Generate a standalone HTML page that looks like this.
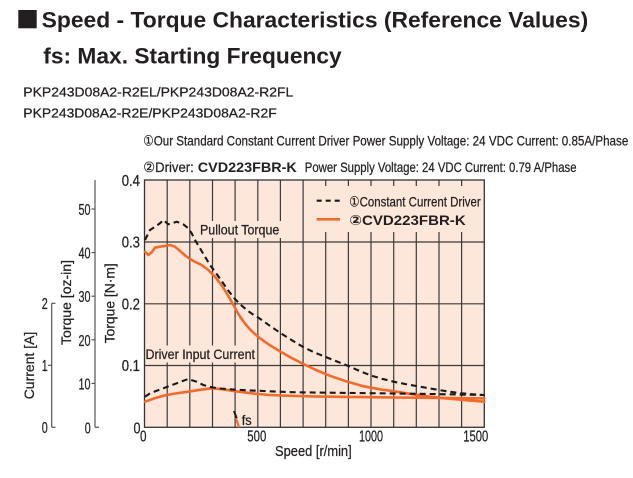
<!DOCTYPE html>
<html>
<head>
<meta charset="utf-8">
<style>
  html, body { margin:0; padding:0; background:#ffffff; }
  body { width:633px; height:478px; overflow:hidden; }
  svg { display:block; }
  text { font-family:"Liberation Sans", "DejaVu Sans", "Noto Sans CJK JP", sans-serif; fill:#231f20; }
  .b { font-weight:bold; }
  .t { stroke:#231f20; stroke-width:0.25; }
</style>
</head>
<body>
<svg width="633" height="478" viewBox="0 0 633 478" xmlns="http://www.w3.org/2000/svg">
  <rect x="0" y="0" width="633" height="478" fill="#ffffff"/>

  <!-- Titles -->
  <rect x="18.3" y="10" width="18.4" height="18.3" fill="#231f20"/>
  <text class="b" x="41.7" y="27.5" font-size="22" textLength="546.5" lengthAdjust="spacingAndGlyphs">Speed - Torque Characteristics (Reference Values)</text>
  <text class="b" x="43.3" y="63.3" font-size="22" textLength="298.4" lengthAdjust="spacingAndGlyphs">fs: Max. Starting Frequency</text>

  <text class="t" x="23.3" y="96.7" font-size="13" textLength="270" lengthAdjust="spacingAndGlyphs">PKP243D08A2-R2EL/PKP243D08A2-R2FL</text>
  <text class="t" x="23.3" y="117.3" font-size="13" textLength="253.4" lengthAdjust="spacingAndGlyphs">PKP243D08A2-R2E/PKP243D08A2-R2F</text>

  <text class="t" x="143.3" y="145.5" font-size="14" textLength="485" lengthAdjust="spacingAndGlyphs">①Our Standard Constant Current Driver  Power Supply Voltage: 24 VDC  Current: 0.85A/Phase</text>
  <text class="t" x="143.3" y="172" font-size="14" textLength="50.5" lengthAdjust="spacingAndGlyphs">②Driver:</text>
  <text class="b" x="197.8" y="172" font-size="14" textLength="99" lengthAdjust="spacingAndGlyphs">CVD223FBR-K</text>
  <text class="t" x="304.8" y="172" font-size="14" textLength="271.7" lengthAdjust="spacingAndGlyphs">Power Supply Voltage: 24 VDC  Current: 0.79 A/Phase</text>

  <!-- Plot background -->
  <rect x="144.5" y="180" width="339.8" height="247.3" fill="#fde7da"/>

  <!-- Grid -->
  <g stroke="#3a3a3a" stroke-width="1.2">
    <line x1="167.2" y1="180" x2="167.2" y2="427.3"/>
    <line x1="189.8" y1="180" x2="189.8" y2="427.3"/>
    <line x1="212.5" y1="180" x2="212.5" y2="427.3"/>
    <line x1="235.1" y1="180" x2="235.1" y2="427.3"/>
    <line x1="257.8" y1="180" x2="257.8" y2="427.3"/>
    <line x1="280.4" y1="180" x2="280.4" y2="427.3"/>
    <line x1="303.1" y1="180" x2="303.1" y2="427.3"/>
    <line x1="325.7" y1="180" x2="325.7" y2="427.3"/>
    <line x1="348.4" y1="180" x2="348.4" y2="427.3"/>
    <line x1="371.0" y1="180" x2="371.0" y2="427.3"/>
    <line x1="393.7" y1="180" x2="393.7" y2="427.3"/>
    <line x1="416.3" y1="180" x2="416.3" y2="427.3"/>
    <line x1="439.0" y1="180" x2="439.0" y2="427.3"/>
    <line x1="461.6" y1="180" x2="461.6" y2="427.3"/>
    <line x1="144.5" y1="365.5" x2="484.3" y2="365.5"/>
    <line x1="144.5" y1="303.8" x2="484.3" y2="303.8"/>
    <line x1="144.5" y1="242.0" x2="484.3" y2="242.0"/>
  </g>

  <!-- Label backgrounds (cover grid) -->
  <rect x="308" y="186" width="175" height="46" fill="#fde7da"/>
  <rect x="198" y="221" width="84" height="17" fill="#fde7da"/>
  <rect x="145" y="345.5" width="112" height="17" fill="#fde7da"/>
  <rect x="240.5" y="412" width="14" height="14" fill="#fde7da"/>

  <!-- Plot border -->
  <rect x="144.5" y="180" width="339.8" height="247.3" fill="none" stroke="#333" stroke-width="1.3"/>

  <!-- Curves: orange (CVD223FBR-K) -->
  <g fill="none" stroke="#f26b2d" stroke-width="2.6" stroke-linejoin="round" stroke-linecap="round">
    <polyline points="145,251.7 148.3,255 151.7,252.3 155,247.7 160,246.7 165,246 170,245 175,246.7 180,251 186.7,256.7 193.3,261 201.7,265 208.3,270 215,276.7 221.7,285.5 226,292 230,299 234,306 238,313.3 242,319.5 246,324.8 250,329.3 254,333.2 258,336.6 264,341.2 270,345.3 280,351.4 292,358.2 303.3,364 316,370 330,375.8 346,381.3 363.3,386.2 380,389.3 396.7,391.7 413,394.3 430,396.7 447,398.5 463.3,400 484.3,401.7"/>
    <polyline points="145,401.7 154,398.5 163.3,395.7 175,393.5 188.3,391.7 200,389.8 211.7,388.3 223.3,389.3 235,391.2 246.7,392.7 258,394 270,395 283,395.6 296.7,396 313,396.4 330,396.7 360,397.1 400,397.5 440,397.9 484.3,398.4"/>
  </g>

  <!-- Curves: dashed black (Constant current driver) -->
  <g fill="none" stroke="#1a1a1a" stroke-width="2.1" stroke-dasharray="6,4" stroke-linejoin="round">
    <polyline points="145,240 150,230 155,226.7 160,223.3 163.3,220 168.3,224.3 171.7,223.3 176.7,221.7 183.3,224.3 188.3,228.3 191.7,233.3 195,240 200,248.3 205,256.7 210,265 216.7,274 223,283 229,291.5 235,299 241,305 247,310.2 252,313.8 257.8,317.2 269,325.2 280.4,333 292,340.3 303.1,347 314,352.3 325.7,357 337,361.5 348.4,366 360,371.2 371,375.5 382,378.8 393.7,381.7 405,384 416.3,386 428,388.1 439,390 450,391.8 461.6,393.3 473,394.3 484.3,395"/>
    <polyline points="145,396.7 150,393.3 156,391 163.3,388.3 170,385.8 176.7,383.3 182,381.2 188.3,379 196.7,381.7 203.3,385 211.7,387.3 220,388.5 230,389.3 245,390.2 263.3,391 280,391.7 296.7,392.3 330,392.7 380,393.3 430,394 484.3,395"/>
  </g>

  <!-- fs marker -->
  <line x1="234" y1="411" x2="236.7" y2="418.3" stroke="#1a1a1a" stroke-width="2"/>
  <line x1="235.9" y1="418.2" x2="239" y2="427.3" stroke="#f26b2d" stroke-width="2.2"/>

  <!-- In-plot labels -->
  <text class="t" x="200" y="234.3" font-size="14" textLength="79.3" lengthAdjust="spacingAndGlyphs">Pullout Torque</text>
  <text class="t" x="145.5" y="359.2" font-size="14" textLength="109.5" lengthAdjust="spacingAndGlyphs">Driver Input Current</text>
  <text class="t" x="241.7" y="425" font-size="14" textLength="10" lengthAdjust="spacingAndGlyphs">fs</text>

  <!-- Legend -->
  <line x1="316.7" y1="200.7" x2="340" y2="200.7" stroke="#1a1a1a" stroke-width="2.1" stroke-dasharray="5,4"/>
  <text class="t" x="349.3" y="206.7" font-size="14" textLength="131.4" lengthAdjust="spacingAndGlyphs">①Constant Current Driver</text>
  <line x1="316.7" y1="219.3" x2="340" y2="219.3" stroke="#f26b2d" stroke-width="2.6"/>
  <text class="b" x="349.3" y="225" font-size="14" textLength="116.4" lengthAdjust="spacingAndGlyphs">②CVD223FBR-K</text>

  <!-- N·m tick labels -->
  <g font-size="16" class="t">
    <text class="t" x="121.7" y="185.8" textLength="18.3" lengthAdjust="spacingAndGlyphs">0.4</text>
    <text class="t" x="121.7" y="247.6" textLength="18.3" lengthAdjust="spacingAndGlyphs">0.3</text>
    <text class="t" x="121.7" y="309.5" textLength="18.3" lengthAdjust="spacingAndGlyphs">0.2</text>
    <text class="t" x="121.7" y="371.2" textLength="18.3" lengthAdjust="spacingAndGlyphs">0.1</text>
    <text class="t" x="133.5" y="433.3" textLength="7" lengthAdjust="spacingAndGlyphs">0</text>
  </g>

  <!-- X tick labels -->
  <g font-size="16">
    <text class="t" x="140" y="441.7" textLength="6.5" lengthAdjust="spacingAndGlyphs">0</text>
    <text class="t" x="247.3" y="441.7" textLength="19" lengthAdjust="spacingAndGlyphs">500</text>
    <text class="t" x="359" y="441.7" textLength="24" lengthAdjust="spacingAndGlyphs">1000</text>
    <text class="t" x="463.3" y="441.7" textLength="25" lengthAdjust="spacingAndGlyphs">1500</text>
  </g>
  <text class="t" x="275" y="456" font-size="15" textLength="76.7" lengthAdjust="spacingAndGlyphs">Speed [r/min]</text>

  <!-- oz-in axis -->
  <g stroke="#555" stroke-width="1.2" fill="none">
    <line x1="95" y1="180" x2="95" y2="427.3"/>
    <line x1="91.5" y1="209" x2="95" y2="209"/>
    <line x1="91.5" y1="252.6" x2="95" y2="252.6"/>
    <line x1="91.5" y1="296.2" x2="95" y2="296.2"/>
    <line x1="91.5" y1="339.8" x2="95" y2="339.8"/>
    <line x1="91.5" y1="383.4" x2="95" y2="383.4"/>
    <line x1="95" y1="427.3" x2="99" y2="427.3"/>
  </g>
  <g font-size="16">
    <text class="t" x="78.5" y="215" textLength="12" lengthAdjust="spacingAndGlyphs">50</text>
    <text class="t" x="78.5" y="258.6" textLength="12" lengthAdjust="spacingAndGlyphs">40</text>
    <text class="t" x="78.5" y="302.2" textLength="12" lengthAdjust="spacingAndGlyphs">30</text>
    <text class="t" x="78.5" y="345.8" textLength="12" lengthAdjust="spacingAndGlyphs">20</text>
    <text class="t" x="78.5" y="389.4" textLength="12" lengthAdjust="spacingAndGlyphs">10</text>
    <text class="t" x="84.7" y="433.3" textLength="6" lengthAdjust="spacingAndGlyphs">0</text>
  </g>

  <!-- Current axis -->
  <g stroke="#555" stroke-width="1.2" fill="none">
    <line x1="51.7" y1="303.3" x2="51.7" y2="427.3"/>
    <line x1="51.7" y1="303.3" x2="55.5" y2="303.3"/>
    <line x1="48" y1="365.3" x2="51.7" y2="365.3"/>
    <line x1="51.7" y1="427.3" x2="55.5" y2="427.3"/>
  </g>
  <g font-size="16">
    <text class="t" x="41.7" y="309" textLength="6" lengthAdjust="spacingAndGlyphs">2</text>
    <text class="t" x="41.7" y="371" textLength="6" lengthAdjust="spacingAndGlyphs">1</text>
    <text class="t" x="41.7" y="433" textLength="6" lengthAdjust="spacingAndGlyphs">0</text>
  </g>

  <!-- Rotated axis titles -->
  <text class="t" transform="translate(114.5,343.3) rotate(-90)" x="0" y="0" font-size="14" textLength="80" lengthAdjust="spacingAndGlyphs">Torque [N·m]</text>
  <text class="t" transform="translate(71.2,345) rotate(-90)" x="0" y="0" font-size="14" textLength="85" lengthAdjust="spacingAndGlyphs">Torque [oz-in]</text>
  <text class="t" transform="translate(34.2,399.3) rotate(-90)" x="0" y="0" font-size="14" textLength="67.6" lengthAdjust="spacingAndGlyphs">Current [A]</text>
</svg>
</body>
</html>
